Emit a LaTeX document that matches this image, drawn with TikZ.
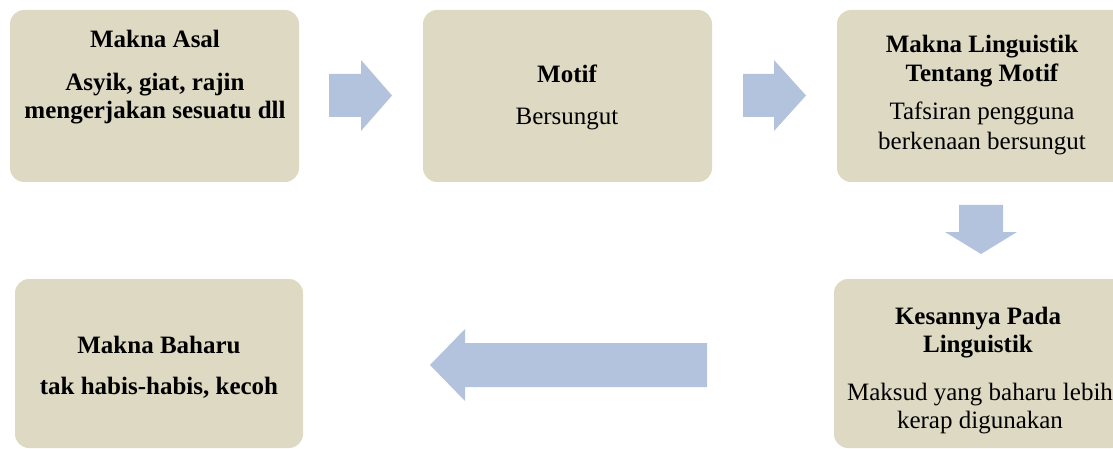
\documentclass[tikz,border=0pt]{standalone}
\usepackage{fontspec}
\setmainfont{Liberation Serif}
\definecolor{boxfill}{HTML}{DDD9C3}
\definecolor{arrowfill}{HTML}{B3C3DE}
\begin{document}
\begin{tikzpicture}[x=1pt,y=-1pt,
  card/.style={fill=boxfill, draw=none, rounded corners=14pt, inner sep=0pt},
  hd/.style={anchor=base, inner sep=0pt, font=\fontsize{25}{29}\selectfont\bfseries},
  bd/.style={anchor=base, inner sep=0pt, font=\fontsize{25}{29}\selectfont},
  blk/.style={fill=arrowfill, draw=none}]
\useasboundingbox (0,0) rectangle (1113,449);
\clip (0,0) rectangle (1113,449);
% boxes
\node[card, minimum width=289pt, minimum height=172pt] (b1) at (154.5,96) {};
\node[card, minimum width=289pt, minimum height=172pt] (b2) at (567.5,96) {};
\node[card, minimum width=290pt, minimum height=172pt] (b3) at (982,96) {};
\node[card, minimum width=291pt, minimum height=169pt] (b4) at (979.5,363.5) {};
\node[card, minimum width=288pt, minimum height=169pt] (b5) at (159,363.5) {};
% block arrows
\path[blk] (329,74) -- (361,74) -- (361,60) -- (392,95.5) -- (361,131) -- (361,117) -- (329,117) -- cycle;
\path[blk] (743,74) -- (774,74) -- (774,60) -- (806,95.5) -- (774,131) -- (774,117) -- (743,117) -- cycle;
\path[blk] (959,205) -- (1003,205) -- (1003,232) -- (1017,232) -- (981,254) -- (945,232) -- (959,232) -- cycle;
\path[blk] (707,343) -- (465,343) -- (465,329) -- (430,365) -- (465,401) -- (465,387) -- (707,387) -- cycle;
% texts
\node[hd] (t1a) at (155,48) {Makna Asal};
\node[hd] (t1b) at (155,91) {Asyik, giat, rajin};
\node[hd] (t1c) at (155,119) {mengerjakan sesuatu dll};
\node[hd] (t2a) at (567,83) {Motif};
\node[bd] (t2b) at (567,125) {Bersungut};
\node[hd] (t3a) at (982,53) {Makna Linguistik};
\node[hd] (t3b) at (982,82) {Tentang Motif};
\node[bd] (t3c) at (982,120) {Tafsiran pengguna};
\node[bd] (t3d) at (982,150) {berkenaan bersungut};
\node[hd] (t4a) at (978,324) {Kesannya Pada};
\node[hd] (t4b) at (978,352) {Linguistik};
\node[bd] (t4c) at (980,400) {Maksud yang baharu lebih};
\node[bd] (t4d) at (980,428) {kerap digunakan};
\node[hd] (t5a) at (159,353) {Makna Baharu};
\node[hd] (t5b) at (159,394) {tak habis-habis, kecoh};
\end{tikzpicture}
\end{document}
